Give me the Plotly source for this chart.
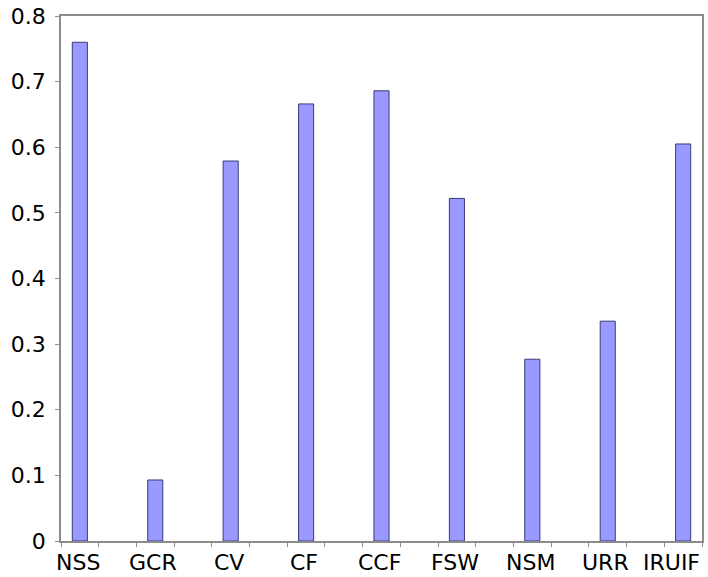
import plotly.graph_objects as go

# Data
categories = ["NSS", "GCR", "CV", "CF", "CCF", "FSW", "NSM", "URR", "IRUIF"]
values = [0.760, 0.093, 0.579, 0.666, 0.686, 0.522, 0.277, 0.335, 0.605]
y_ticks = [0, 0.1, 0.2, 0.3, 0.4, 0.5, 0.6, 0.7, 0.8]

# every category sits in every other slot of a 17-slot axis
n_slots = 2 * len(categories) - 1
positions = [2 * i + 0.5 for i in range(len(categories))]

FONT = "DejaVu Sans"
AXIS_GRAY = "#8c8c8c"

fig = go.Figure()
fig.add_trace(
    go.Bar(
        x=positions,
        y=values,
        width=0.4,
        marker=dict(color="#9999ff", line=dict(color="#3a3a78", width=1)),
        hoverinfo="x+y",
    )
)

# category labels under the bars
for i, (pos, name) in enumerate(zip(positions, categories)):
    last = i == len(categories) - 1
    fig.add_annotation(
        x=n_slots if last else pos,
        y=0,
        xref="x",
        yref="y",
        text=name,
        showarrow=False,
        xanchor="right" if last else "center",
        yanchor="top",
        xshift=0 if last else -2,
        yshift=-7,
        font=dict(family=FONT, size=22, color="#000000"),
    )

fig.update_layout(
    width=708,
    height=577,
    margin=dict(l=61, r=6, t=16, b=36),
    paper_bgcolor="white",
    plot_bgcolor="white",
    showlegend=False,
    font=dict(family=FONT, size=22, color="#000000"),
)

fig.update_xaxes(
    range=[0, n_slots],
    tickvals=list(range(n_slots + 1)),
    showticklabels=False,
    ticks="outside",
    ticklen=4,
    tickcolor=AXIS_GRAY,
    showline=True,
    linecolor=AXIS_GRAY,
    linewidth=1.5,
    mirror=True,
    showgrid=False,
    zeroline=False,
)

fig.update_yaxes(
    range=[0, 0.8],
    tickvals=y_ticks,
    ticks="outside",
    ticklen=4,
    tickcolor=AXIS_GRAY,
    ticklabelstandoff=5,
    showline=True,
    linecolor=AXIS_GRAY,
    linewidth=1.5,
    mirror=True,
    showgrid=False,
    zeroline=False,
    automargin=False,
)

# page body has a default 8px margin; drop it so the figure fills the window
fig.write_html(
    "out.html",
    config={"displayModeBar": False},
    post_script="document.body.style.margin='0';",
)
